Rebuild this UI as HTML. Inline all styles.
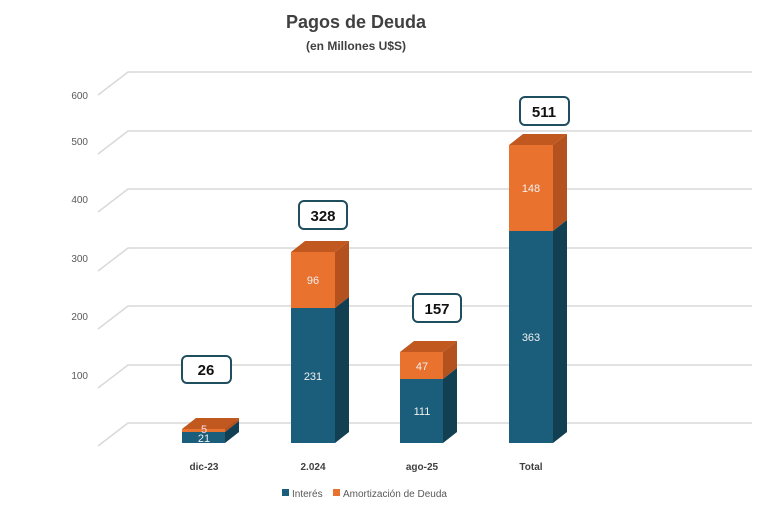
<!DOCTYPE html><html><head><style>body{margin:0;background:#fff}svg{display:block}</style></head><body>
<svg width="770" height="513" xmlns="http://www.w3.org/2000/svg" font-family="Liberation Sans, sans-serif">
<text x="356" y="28" text-anchor="middle" font-size="18" font-weight="bold" fill="#404040">Pagos de Deuda</text>
<text x="356" y="50" text-anchor="middle" font-size="12" font-weight="bold" fill="#404040">(en Millones U$S)</text>
<g stroke="#d9d9d9" stroke-width="1.5" fill="none">
<polyline points="98,446 128,423 752,423"/>
<polyline points="98,388 128,365 752,365"/>
<polyline points="98,329 128,306 752,306"/>
<polyline points="98,271 128,248 752,248"/>
<polyline points="98,212 128,189 752,189"/>
<polyline points="98,154 128,131 752,131"/>
<polyline points="98,95 128,72 752,72"/>
</g>
<g font-size="10" fill="#595959" text-anchor="end">
<text x="88" y="379">100</text><text x="88" y="320">200</text><text x="88" y="262">300</text><text x="88" y="203">400</text><text x="88" y="145">500</text><text x="88" y="99">600</text>
</g>
<g id="bars">
<!-- bar1 -->
<polygon points="182,432 225,432 239,421 196,421" fill="#c0581f"/>
<polygon points="182,429 225,429 239,418 196,418" fill="#c0581f"/>
<polygon points="225,432 239,421 239,432 225,443" fill="#123f52"/>
<polygon points="225,429 239,418 239,421 225,432" fill="#b4521f"/>
<rect x="182" y="432" width="43" height="11" fill="#1b5e7b"/>
<rect x="182" y="429" width="43" height="3" fill="#e8722e"/>
<!-- bar2 -->
<polygon points="291,252 335,252 349,241 305,241" fill="#c0581f"/>
<polygon points="335,252 349,241 349,297 335,308" fill="#b4521f"/>
<polygon points="335,308 349,297 349,432 335,443" fill="#123f52"/>
<rect x="291" y="252" width="44" height="56" fill="#e8722e"/>
<rect x="291" y="308" width="44" height="135" fill="#1b5e7b"/>
<!-- bar3 -->
<polygon points="400,352 443,352 457,341 414,341" fill="#c0581f"/>
<polygon points="443,352 457,341 457,368 443,379" fill="#b4521f"/>
<polygon points="443,379 457,368 457,432 443,443" fill="#123f52"/>
<rect x="400" y="352" width="43" height="27" fill="#e8722e"/>
<rect x="400" y="379" width="43" height="64" fill="#1b5e7b"/>
<!-- bar4 -->
<polygon points="509,145 553,145 567,134 523,134" fill="#c0581f"/>
<polygon points="553,145 567,134 567,220 553,231" fill="#b4521f"/>
<polygon points="553,231 567,220 567,432 553,443" fill="#123f52"/>
<rect x="509" y="145" width="44" height="86" fill="#e8722e"/>
<rect x="509" y="231" width="44" height="212" fill="#1b5e7b"/>
</g>
<g font-size="11" fill="#f0f0f0" text-anchor="middle">
<text x="204" y="442">21</text><text x="204" y="433" fill="#fde">5</text>
<text x="313" y="284">96</text><text x="313" y="380">231</text>
<text x="422" y="370">47</text><text x="422" y="415">111</text>
<text x="531" y="192">148</text><text x="531" y="341">363</text>
</g>
<g fill="#fff" stroke="#1f4e5f" stroke-width="2">
<rect x="182" y="356" width="49" height="27" rx="5"/>
<rect x="299" y="201" width="48" height="28" rx="5"/>
<rect x="413" y="294" width="48" height="28" rx="5"/>
<rect x="520" y="97" width="49" height="28" rx="5"/>
</g>
<g font-size="15" font-weight="bold" fill="#111" text-anchor="middle">
<text x="206" y="375">26</text><text x="323" y="221">328</text><text x="437" y="314">157</text><text x="544" y="117">511</text>
</g>
<g font-size="10" font-weight="bold" fill="#404040" text-anchor="middle">
<text x="204" y="470">dic-23</text><text x="313" y="470">2.024</text><text x="422" y="470">ago-25</text><text x="531" y="470">Total</text>
</g>
<rect x="282" y="489" width="7" height="7" fill="#1b5e7b"/>
<text x="292" y="497" font-size="10" fill="#595959">Interés</text>
<rect x="333" y="489" width="7" height="7" fill="#e8722e"/>
<text x="343" y="497" font-size="10" fill="#595959">Amortización de Deuda</text>
</svg>
</body></html>
